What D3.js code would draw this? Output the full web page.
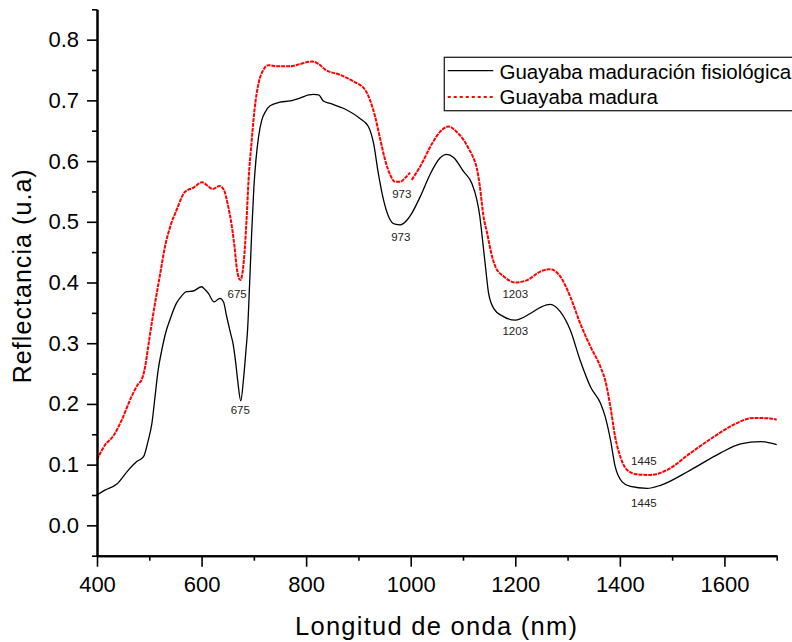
<!DOCTYPE html>
<html><head><meta charset="utf-8">
<script src="https://cdn.jsdelivr.net/npm/d3@7"></script>
<style>
body{margin:0;background:#fff;overflow:hidden}
svg{display:block}
text{font-family:"Liberation Sans",Arial,Helvetica,sans-serif}
</style>
</head><body>
<svg id="chart" width="792" height="642"></svg>
<script>
// ---- data ----
const seriesNames = ["Guayaba maduración fisiológica", "Guayaba madura"];

const wlBlack = [400,415,438,460,476,489,498,505,511,517,524,531,540,552,562,571,584,600,607,613,624,635,642,648,655,660,665,669,675,680,685,688,692,696,700,704,709,715,722,731,750,769,789,805,814,824,833,846,871,903,919,929,938,948,958,970,980,993,1002,1018,1037,1056,1069,1082,1101,1117,1126,1132,1136,1143,1149,1159,1175,1200,1229,1250,1267,1286,1305,1324,1344,1363,1372,1382,1391,1404,1420,1452,1478,1535,1592,1631,1669,1700];
const valBlack = [0.050,0.058,0.068,0.091,0.105,0.113,0.140,0.168,0.212,0.256,0.289,0.316,0.340,0.366,0.378,0.385,0.386,0.393,0.388,0.382,0.368,0.374,0.368,0.344,0.318,0.300,0.270,0.239,0.205,0.239,0.289,0.322,0.400,0.485,0.556,0.602,0.640,0.667,0.681,0.691,0.697,0.699,0.704,0.709,0.710,0.709,0.699,0.695,0.687,0.670,0.657,0.629,0.580,0.536,0.508,0.496,0.495,0.503,0.514,0.541,0.578,0.605,0.611,0.606,0.583,0.563,0.538,0.510,0.481,0.426,0.382,0.357,0.345,0.338,0.349,0.360,0.364,0.352,0.322,0.272,0.228,0.201,0.179,0.141,0.097,0.072,0.064,0.061,0.066,0.091,0.119,0.134,0.138,0.133];

const wlRed = [400,415,431,447,466,479,485,492,497,502,511,521,530,540,552,568,584,601,612,621,635,643,651,658,663,667,671,674,679,683,686,690,696,702,709,718,728,744,769,789,811,824,836,865,891,913,922,932,942,951,961,970,980,989,999,1000,1002,1018,1041,1056,1072,1088,1101,1110,1120,1126,1132,1139,1146,1155,1162,1178,1200,1223,1248,1267,1286,1305,1324,1344,1363,1372,1382,1391,1401,1414,1433,1458,1490,1535,1580,1618,1656,1688,1700];
const valRed = [0.108,0.132,0.147,0.173,0.212,0.233,0.239,0.261,0.289,0.318,0.366,0.415,0.459,0.492,0.519,0.549,0.556,0.565,0.559,0.554,0.559,0.552,0.525,0.492,0.459,0.426,0.408,0.404,0.421,0.459,0.503,0.570,0.635,0.690,0.728,0.750,0.758,0.756,0.756,0.760,0.764,0.760,0.751,0.742,0.731,0.717,0.701,0.673,0.635,0.602,0.577,0.566,0.566,0.572,0.581,null,0.569,0.591,0.629,0.648,0.657,0.648,0.635,0.622,0.605,0.590,0.560,0.510,0.482,0.445,0.426,0.410,0.400,0.404,0.418,0.422,0.410,0.377,0.333,0.294,0.261,0.239,0.195,0.146,0.113,0.091,0.084,0.083,0.091,0.119,0.146,0.166,0.177,0.176,0.174];

const xMajorTicks = [400,600,800,1000,1200,1400,1600];
const xMinorTicks = [500,700,900,1100,1300,1500,1700];
const yMajorTicks = [0.0,0.1,0.2,0.3,0.4,0.5,0.6,0.7,0.8];
const yMinorTicks = [-0.05,0.05,0.15,0.25,0.35,0.45,0.55,0.65,0.75,0.85];

// peak annotations: label, wavelength and reflectance of the label anchor
const annLabels = ["675","675","973","973","1203","1203","1445","1445"];
const annWl     = [668,674,983,981,1200,1200,1446,1446];
const annVal    = [0.375,0.183,0.539,0.468,0.374,0.313,0.100,0.030];

const xTitle = "Longitud de onda (nm)";
const yTitle = "Reflectancia (u.a)";

// ---- drawing ----
const svg = d3.select("#chart");
const x = d3.scaleLinear().domain([400,1700]).range([97,776.7]);
const y = d3.scaleLinear().domain([-0.05,0.85]).range([555.7,9.3]);

const blackData = wlBlack.map((w,i)=>({w, v: valBlack[i]}));
const redData = wlRed.map((w,i)=>({w, v: valRed[i]}));

const line = d3.line().defined(d=>d.v!=null).x(d=>x(d.w)).y(d=>y(d.v)).curve(d3.curveMonotoneX);

svg.append("path").datum(redData).attr("d",line)
  .attr("fill","none").attr("stroke","#ff0000").attr("stroke-width",2)
  .attr("stroke-dasharray","4,0.9");
svg.append("path").datum(blackData).attr("d",line)
  .attr("fill","none").attr("stroke","#000").attr("stroke-width",1.3);

// axes
const yAxisG = svg.append("g").attr("transform","translate(97,0)");
yAxisG.call(d3.axisLeft(y).tickValues(yMajorTicks).tickSize(10).tickSizeOuter(0).tickPadding(8).tickFormat(d3.format(".1f")));
const yMinorG = svg.append("g").attr("transform","translate(97,0)");
yMinorG.call(d3.axisLeft(y).tickValues(yMinorTicks).tickSize(5).tickSizeOuter(0).tickFormat(""));

const xAxisG = svg.append("g").attr("transform","translate(0,555.7)");
xAxisG.call(d3.axisBottom(x).tickValues(xMajorTicks).tickSize(11).tickSizeOuter(0).tickPadding(10).tickFormat(d3.format("d")));
const xMinorG = svg.append("g").attr("transform","translate(0,555.7)");
xMinorG.call(d3.axisBottom(x).tickValues(xMinorTicks).tickSize(5).tickSizeOuter(0).tickFormat(""));

svg.selectAll(".domain").attr("stroke","#000").attr("stroke-width",2);
svg.selectAll(".tick line").attr("stroke","#000").attr("stroke-width",1.6);
svg.selectAll(".tick text").attr("font-size","22px").attr("fill","#000")
  .attr("font-family","'Liberation Sans',Arial,sans-serif");

// axis titles
svg.append("text").attr("x",436).attr("y",635).attr("text-anchor","middle")
  .attr("font-size","25.5px").attr("textLength",282).attr("lengthAdjust","spacing").text(xTitle);
svg.append("text").attr("transform","translate(31,276.3) rotate(-90)")
  .attr("text-anchor","middle").attr("font-size","25px")
  .attr("textLength",214).attr("lengthAdjust","spacing").text(yTitle);

// annotations
svg.append("g").selectAll("text").data(annLabels).join("text")
  .attr("x",(d,i)=>x(annWl[i])).attr("y",(d,i)=>y(annVal[i]))
  .attr("text-anchor","middle").attr("font-size","11.5px").attr("fill","#222")
  .text(d=>d);

// legend
const lg = svg.append("g");
lg.append("rect").attr("x",444.3).attr("y",57.3).attr("width",400).attr("height",53.4)
  .attr("fill","#fff").attr("stroke","#222").attr("stroke-width",1.3);
lg.append("line").attr("x1",447.7).attr("x2",493.3).attr("y1",70.7).attr("y2",70.7)
  .attr("stroke","#000").attr("stroke-width",1.3);
lg.append("line").attr("x1",447.7).attr("x2",493.3).attr("y1",97).attr("y2",97)
  .attr("stroke","#ff0000").attr("stroke-width",2).attr("stroke-dasharray","3,3");
lg.append("text").attr("x",499.5).attr("y",78.5).attr("font-size","20.5px").text(seriesNames[0]);
lg.append("text").attr("x",499.5).attr("y",104).attr("font-size","20.5px").text(seriesNames[1]);
</script>
</body></html>
